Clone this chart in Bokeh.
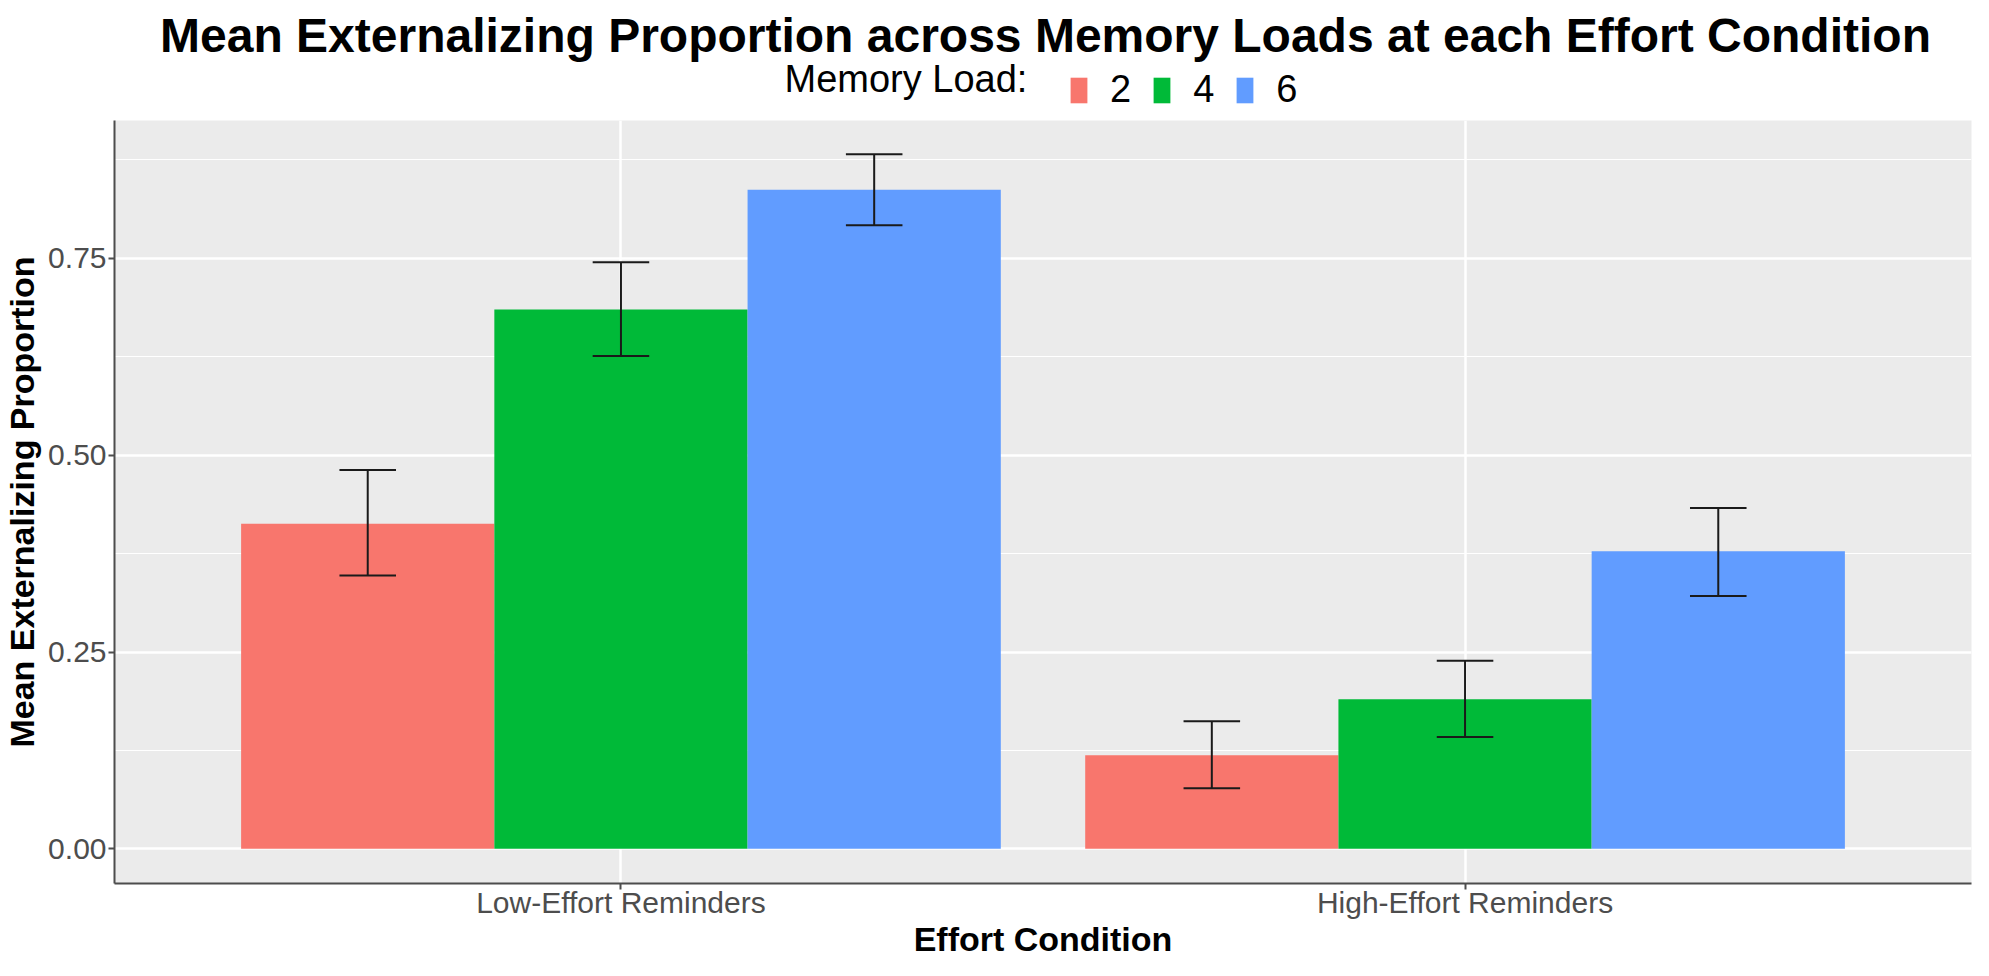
from bokeh.plotting import figure
from bokeh.layouts import column
from bokeh.models import (ColumnDataSource, FactorRange, Range1d, FixedTicker,
                          Legend, LegendItem, Label)
from bokeh.transform import dodge
from bokeh.embed import file_html
from bokeh.resources import INLINE

# ---------------- data ----------------
title_text = "Mean Externalizing Proportion across Memory Loads at each Effort Condition"
x_title = "Effort Condition"
y_title = "Mean Externalizing Proportion"
conditions = ["Low-Effort Reminders", "High-Effort Reminders"]
loads = ["2", "4", "6"]
legend_title = "Memory Load:"
colors = ["#F8766D", "#00BA38", "#619CFF"]

mean_load2 = [0.413, 0.119]
mean_load4 = [0.685, 0.190]
mean_load6 = [0.837, 0.378]

lower_load2 = [0.347, 0.077]
upper_load2 = [0.481, 0.162]
lower_load4 = [0.626, 0.142]
upper_load4 = [0.745, 0.239]
lower_load6 = [0.792, 0.321]
upper_load6 = [0.882, 0.433]

y_ticks = [0.0, 0.25, 0.5, 0.75]
y_tick_labels = ["0.00", "0.25", "0.50", "0.75"]
y_minor_ticks = [0.125, 0.375, 0.625, 0.875]

means = [mean_load2, mean_load4, mean_load6]
lowers = [lower_load2, lower_load4, lower_load6]
uppers = [upper_load2, upper_load4, upper_load6]

FONT = "Liberation Sans"
W = 1973
H_TOP, H_MAIN = 120, 840
LEFT, RIGHT = 109, 2
FRAME_W = W - LEFT - RIGHT          # the column aligns all frames to the chart's frame
FRAME_CX = FRAME_W / 2


# ---------------- header: title + legend ----------------
top = figure(width=W, height=H_TOP, x_range=Range1d(0, FRAME_W), y_range=Range1d(0, H_TOP),
             output_backend="svg", toolbar_location=None,
             x_axis_location=None, y_axis_location=None, min_border=0,
             min_border_left=LEFT, min_border_right=RIGHT,
             outline_line_color=None, background_fill_color="white",
             border_fill_color="white")
top.xgrid.visible = False
top.ygrid.visible = False

top.add_layout(Label(x=FRAME_CX, y=85, x_units="screen", y_units="screen",
                     text=title_text, text_align="center", text_baseline="alphabetic",
                     text_font=FONT, text_font_size="48px",
                     text_font_style="bold", text_color="black"))
top.add_layout(Label(x=670, y=42, x_units="screen", y_units="screen",
                     text=legend_title, text_align="left", text_baseline="alphabetic",
                     text_font=FONT, text_font_size="38px",
                     text_color="black"))
items = []
for lab, col in zip(loads, colors):
    # legend key renderer: kept outside the visible header range
    key = top.vbar(x=[-50], top=[-20], bottom=[-40], width=10,
                   fill_color=col, line_color=None)
    items.append(LegendItem(label=lab, renderers=[key]))
legend = Legend(items=items, orientation="horizontal", location=(954, 9),
                label_text_font=FONT, label_text_font_size="38px",
                label_text_color="black", label_standoff=21,
                spacing=20, glyph_width=21, glyph_height=32,
                padding=0, margin=0, border_line_color=None,
                background_fill_alpha=0)
top.add_layout(legend, "center")

# ---------------- main chart ----------------
p = figure(
    x_range=FactorRange(factors=conditions, range_padding=0.1,
                        range_padding_units="absolute"),
    y_range=Range1d(-0.044, 0.925),
    width=W, height=H_MAIN,
    output_backend="svg", toolbar_location=None,
    min_border_left=LEFT, min_border_right=RIGHT,
    min_border_top=0, min_border_bottom=77,
    background_fill_color="#EBEBEB", border_fill_color="white",
    outline_line_color=None,
)

bar_w = 0.3
cap_half = 0.0335
for i, (m, lo, hi, col) in enumerate(zip(means, lowers, uppers, colors)):
    off = (i - 1) * bar_w
    src = ColumnDataSource(dict(cond=conditions, mean=m, lo=lo, hi=hi))
    p.vbar(x=dodge("cond", off, range=p.x_range), top="mean", bottom=0,
           width=bar_w, source=src, fill_color=col, line_color=None)
    p.segment(x0=dodge("cond", off, range=p.x_range), x1=dodge("cond", off, range=p.x_range),
              y0="lo", y1="hi", source=src, line_color="#1A1A1A", line_width=2)
    p.segment(x0=dodge("cond", off - cap_half, range=p.x_range),
              x1=dodge("cond", off + cap_half, range=p.x_range),
              y0="hi", y1="hi", source=src, line_color="#1A1A1A", line_width=2)
    p.segment(x0=dodge("cond", off - cap_half, range=p.x_range),
              x1=dodge("cond", off + cap_half, range=p.x_range),
              y0="lo", y1="lo", source=src, line_color="#1A1A1A", line_width=2)

p.yaxis.ticker = FixedTicker(ticks=y_ticks, minor_ticks=y_minor_ticks)
p.yaxis.major_label_overrides = {t: l for t, l in zip(y_ticks, y_tick_labels)}

for ax in (p.xaxis[0], p.yaxis[0]):
    ax.axis_line_color = "#4D4D4D"
    ax.axis_line_width = 2
    ax.major_tick_line_color = "#4D4D4D"
    ax.major_tick_line_width = 2
    ax.major_tick_in = 0
    ax.major_tick_out = 6
    ax.minor_tick_line_color = None
    ax.major_label_text_font = FONT
    ax.major_label_text_font_size = "30px"
    ax.major_label_text_color = "#4D4D4D"
    ax.major_label_text_line_height = 1.0
    ax.axis_label_text_font = FONT
    ax.axis_label_text_font_size = "34px"
    ax.axis_label_text_font_style = "bold"
    ax.axis_label_text_color = "black"
    ax.axis_label_text_line_height = 1.0

p.xaxis.axis_label = x_title
p.yaxis.axis_label = y_title
p.xaxis.major_label_standoff = -4
p.xaxis.axis_label_standoff = -2
p.yaxis.major_label_standoff = 2
p.yaxis.axis_label_standoff = 4

p.xgrid.grid_line_color = "white"
p.xgrid.grid_line_width = 2.5
p.ygrid.grid_line_color = "white"
p.ygrid.grid_line_width = 2.5
p.ygrid.minor_grid_line_color = "white"
p.ygrid.minor_grid_line_width = 1.2

layout = column(top, p, spacing=0)
open("out.html", "w").write(file_html(layout, INLINE))
